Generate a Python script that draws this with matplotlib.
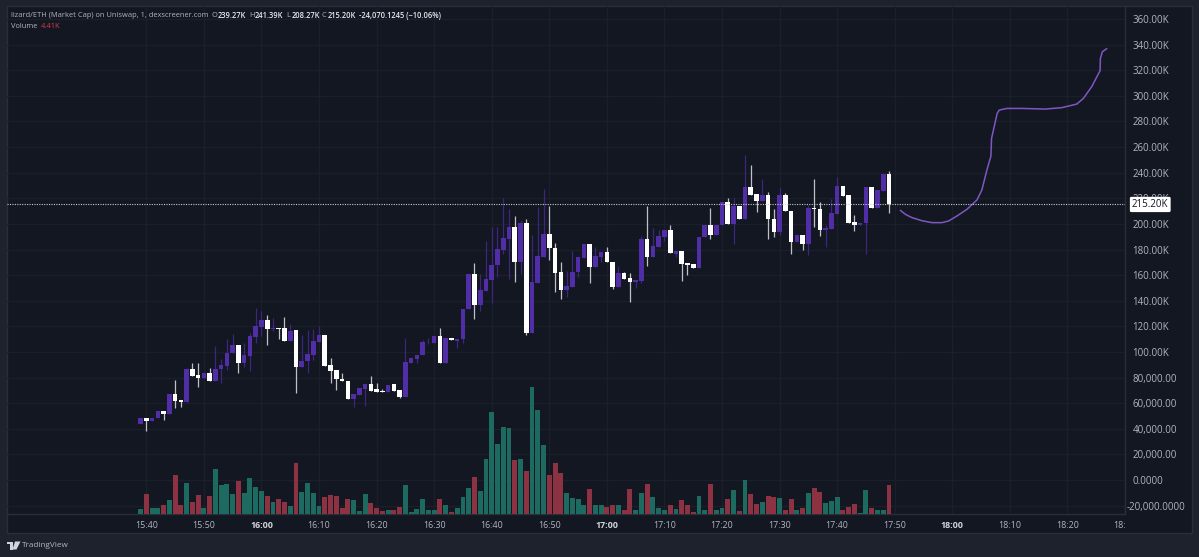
import numpy as np
import matplotlib
matplotlib.use('Agg')
import matplotlib.pyplot as plt
from matplotlib.patches import Rectangle, Polygon
from matplotlib.transforms import Bbox, ScaledTranslation, blended_transform_factory

# 1 minute candles, market cap in thousands, first one at 15:39
opens = [43.7, 48.2, 46.3, 48.2, 53.9, 51.8, 67.2, 62.5, 60.6, 86.9,
         81.7, 79.6, 83.6, 77.1, 86.7, 89.0, 98.9, 105.4, 91.4, 97.1,
         111.9, 119.5, 125.2, 117.9, 118.7, 118.4, 108.8, 116.9, 88.0, 92.7,
         97.6, 108.0, 113.2, 89.5, 85.9, 79.1, 77.6, 63.3, 66.4, 71.0,
         75.0, 70.8, 69.5, 68.7, 74.7, 70.3, 65.1, 91.4, 94.8, 97.4,
         107.5, 107.0, 112.5, 91.1, 110.9, 108.8, 110.1, 133.3, 160.9, 136.7,
         147.9, 156.2, 167.6, 179.6, 188.2, 197.3, 170.0, 200.4, 114.8, 154.1,
         174.4, 192.4, 181.4, 162.2, 148.4, 151.0, 162.2, 173.6, 184.0, 166.6,
         174.4, 178.0, 170.5, 151.0, 161.4, 157.5, 154.6, 155.4, 188.0, 174.4,
         182.2, 190.0, 195.2, 176.7, 179.1, 169.2, 168.4, 165.6, 189.5, 199.4,
         191.3, 198.9, 217.4, 199.9, 214.0, 203.8, 229.1, 223.1, 218.1, 222.3,
         203.8, 193.9, 222.3, 210.3, 185.6, 191.3, 184.3, 212.7, 211.6, 195.0,
         196.3, 208.0, 229.6, 222.3, 201.5, 199.1, 200.4, 228.8, 212.4, 225.9,
         239.27]
highs = [48.2, 48.2, 48.7, 53.9, 53.9, 67.2, 78.1, 62.5, 87.5, 91.6,
         91.1, 83.6, 87.5, 104.6, 94.2, 110.4, 114.0, 105.4, 106.7, 114.6,
         134.1, 132.2, 128.9, 126.5, 118.7, 127.0, 121.8, 116.9, 113.2, 117.1,
         117.7, 120.3, 113.2, 95.0, 85.9, 83.8, 77.6, 67.2, 71.6, 75.0,
         81.5, 75.5, 70.8, 74.5, 74.7, 70.3, 110.6, 95.3, 97.9, 109.3,
         110.6, 112.5, 118.7, 110.9, 110.9, 110.4, 133.8, 160.9, 169.2, 160.9,
         186.9, 197.8, 197.3, 220.0, 211.4, 206.2, 202.5, 203.6, 191.3, 213.0,
         227.0, 214.0, 184.8, 170.0, 163.5, 178.6, 173.9, 184.0, 184.0, 182.2,
         178.0, 182.2, 170.5, 167.1, 162.7, 161.4, 156.2, 190.5, 214.0, 196.8,
         195.2, 195.2, 198.9, 178.6, 179.1, 169.2, 168.4, 189.8, 199.4, 212.1,
         199.4, 217.1, 220.0, 220.0, 214.0, 253.8, 245.7, 223.1, 234.8, 224.6,
         211.4, 229.1, 223.9, 210.3, 191.3, 191.3, 214.7, 235.1, 216.8, 198.9,
         219.7, 236.4, 229.6, 222.3, 206.7, 200.7, 228.8, 228.8, 226.2, 239.0,
         241.39]
lows = [43.7, 38.5, 46.3, 48.2, 46.9, 51.8, 56.2, 56.7, 60.6, 81.0,
        72.9, 79.6, 77.1, 77.1, 76.0, 85.9, 98.9, 83.8, 88.0, 85.1,
        107.3, 112.5, 105.7, 116.6, 110.4, 108.8, 108.8, 67.7, 88.0, 83.8,
        93.7, 108.0, 89.0, 76.0, 70.3, 77.1, 63.3, 57.3, 66.4, 57.8,
        69.8, 68.7, 68.5, 68.7, 69.5, 64.0, 65.1, 91.4, 91.6, 97.4,
        106.0, 107.0, 91.1, 91.1, 109.1, 102.8, 107.3, 133.3, 125.7, 132.2,
        147.9, 138.0, 158.8, 176.5, 156.7, 154.9, 160.9, 113.2, 114.8, 154.1,
        174.4, 171.8, 146.8, 141.3, 143.2, 151.0, 158.8, 173.6, 154.1, 166.6,
        170.2, 170.0, 149.4, 151.0, 157.0, 138.7, 150.2, 154.1, 167.4, 174.4,
        182.2, 186.9, 177.0, 174.4, 155.1, 160.1, 165.6, 165.6, 189.5, 188.5,
        191.3, 198.9, 199.9, 184.0, 203.8, 203.8, 222.6, 209.3, 218.1, 187.9,
        189.5, 191.3, 209.8, 176.5, 185.6, 179.6, 175.7, 197.8, 190.5, 182.2,
        196.3, 208.0, 221.8, 200.9, 194.7, 199.1, 176.5, 212.4, 212.4, 225.9,
        208.27]
closes = [48.2, 46.3, 48.7, 53.9, 51.5, 67.2, 62.0, 60.6, 86.9, 81.0,
          79.6, 83.6, 77.1, 86.9, 89.5, 99.4, 105.4, 91.6, 97.6, 112.5,
          120.0, 125.2, 117.9, 118.7, 117.9, 108.8, 116.6, 88.3, 92.9, 98.1,
          108.3, 113.2, 89.0, 85.4, 78.6, 77.1, 63.3, 67.2, 71.6, 75.0,
          69.8, 68.7, 68.5, 74.5, 69.5, 65.1, 91.9, 95.3, 97.9, 107.5,
          108.0, 112.5, 91.1, 110.9, 109.1, 110.4, 133.8, 160.9, 136.7, 148.4,
          156.7, 167.9, 180.1, 188.7, 197.3, 170.0, 200.4, 114.8, 154.6, 174.9,
          192.1, 180.9, 161.9, 148.4, 151.5, 162.4, 173.9, 184.0, 166.6, 174.9,
          178.0, 170.0, 151.0, 161.6, 157.0, 154.6, 156.2, 188.0, 174.4, 182.5,
          190.3, 195.2, 177.0, 178.6, 168.7, 168.2, 165.6, 189.8, 199.4, 191.3,
          199.4, 217.1, 199.9, 214.0, 203.8, 229.1, 222.6, 218.1, 222.3, 203.6,
          193.9, 222.3, 209.8, 185.6, 191.3, 184.3, 212.7, 211.4, 195.0, 196.8,
          208.2, 229.6, 221.8, 200.9, 199.4, 200.7, 228.8, 212.4, 226.2, 239.0,
          215.20]
volumes = [0.77, 3.08, 0.87, 0.97, 1.38, 2.21, 5.95, 1.44, 4.82, 1.85,
           2.92, 0.87, 2.77, 6.87, 4.41, 4.67, 3.03, 5.13, 3.23, 5.59,
           4.21, 3.54, 2.77, 1.85, 2.36, 1.90, 1.28, 7.85, 3.44, 4.82,
           3.23, 1.28, 2.56, 2.97, 2.77, 0.87, 2.36, 2.15, 0.51, 3.13,
           1.64, 0.97, 0.41, 0.56, 0.56, 1.13, 4.41, 0.36, 0.77, 2.31,
           0.67, 0.56, 2.36, 1.44, 0.36, 0.97, 2.67, 4.05, 5.74, 3.54,
           8.46, 15.74, 10.77, 13.44, 13.23, 8.36, 8.51, 6.56, 19.54, 15.95,
           10.56, 5.95, 7.90, 6.36, 3.23, 2.46, 2.31, 1.38, 3.90, 1.44,
           1.44, 1.08, 1.44, 1.38, 0.67, 3.85, 0.67, 3.23, 4.62, 2.56,
           0.87, 0.67, 1.38, 0.82, 2.15, 1.44, 0.31, 2.77, 0.67, 4.62,
           0.67, 0.97, 2.36, 3.64, 0.51, 5.28, 3.08, 1.54, 1.90, 2.82,
           2.67, 2.46, 0.67, 2.26, 0.62, 0.97, 3.23, 4.05, 3.44, 1.74,
           1.95, 2.67, 0.62, 1.08, 1.59, 0.21, 3.74, 0.97, 0.67, 0.67,
           4.41]

# hand drawn forecast line: minutes after 15:40, market cap in thousands
sketch_minutes = [130.98, 131.85, 133.0, 134.74, 136.47, 138.2, 139.36, 140.81, 142.54, 144.28,
                  145.14, 146.01, 146.71, 146.82, 147.34, 147.8, 148.15, 149.48, 152.08, 156.13,
                  159.02, 161.62, 162.78, 164.22, 165.67, 165.73, 166.07, 166.83]
sketch_values = [210.6, 207.5, 204.9, 202.5, 201.0, 201.0, 202.3, 206.2, 211.4, 218.7,
                 226.5, 242.1, 253.0, 266.8, 277.2, 286.4, 288.9, 290.2, 290.2, 289.7,
                 290.8, 293.6, 298.1, 307.2, 319.7, 329.3, 334.5, 336.9]

time_labels = ['15:40', '15:50', '16:00', '16:10', '16:20', '16:30', '16:40', '16:50', '17:00',
               '17:10', '17:20', '17:30', '17:40', '17:50', '18:00', '18:10', '18:20', '18:30']
bold_times = ['16:00', '17:00', '18:00']
price_ticks = [360, 340, 320, 300, 280, 260, 240, 220, 200, 180, 160, 140, 120, 100, 80, 60, 40, 20, 0, -20]
price_labels = ['360.00K', '340.00K', '320.00K', '300.00K', '280.00K', '260.00K', '240.00K', '220.00K',
                '200.00K', '180.00K', '160.00K', '140.00K', '120.00K', '100.00K', '80,000.00', '60,000.00',
                '40,000.00', '20,000.00', '0.0000', '-20,000.0000']

BG = '#1e222d'
PANE = '#131722'
GRID = '#1b1f2a'
LINE = '#2a2e39'
TEXT = '#b2b5be'
UP = '#512da8'
UP_WICK = '#3d2680'
DOWN = '#ffffff'
DOWN_WICK = '#bfc1c6'
VOL_UP = '#1d6a60'
VOL_DOWN = '#8c3243'
FONT = 'Open Sans'
HEAD_SIZE = 5.45
TIME_SIZE = 6.4
PRICE_SIZE = 7.0

W, H = 1199, 557
plt.rcParams['font.family'] = [FONT, 'DejaVu Sans']


def box(left, top, right, bottom):
    # pixel edges measured from the top left corner -> figure fractions
    return [left / W, 1 - bottom / H, (right - left) / W, (bottom - top) / H]


fig = plt.figure(figsize=(W / 100, H / 100), dpi=100, facecolor=BG)

# panel behind everything, includes the price scale and time scale
fig.patches.append(Rectangle((7 / W, 1 - 533 / H), 1185 / W, 527 / H, transform=fig.transFigure,
                             facecolor=PANE, edgecolor=LINE, linewidth=1, zorder=-5))

ax = fig.add_axes(box(7, 6, 1125, 514))
ax.patch.set_visible(False)
ax.set_xlim(-24.2, 169.7)
ax.set_ylim(-26.55, 370.2)

minutes = np.arange(len(opens)) - 1
opens_a = np.array(opens)
closes_a = np.array(closes)
is_up = closes_a >= opens_a

# candles
ax.vlines(minutes[is_up], np.array(lows)[is_up], np.array(highs)[is_up], color=UP_WICK, linewidth=0.9, zorder=2)
ax.vlines(minutes[~is_up], np.array(lows)[~is_up], np.array(highs)[~is_up], color=DOWN_WICK, linewidth=0.9, zorder=2)
body_bottom = np.minimum(opens_a, closes_a)
body_height = np.abs(closes_a - opens_a)
ax.bar(minutes, body_height, bottom=body_bottom, width=0.8,
       color=[UP if u else DOWN for u in is_up], linewidth=0, zorder=3)

# forecast sketch and last price
ax.plot(sketch_minutes, sketch_values, color='#7e57c2', linewidth=1.1, solid_capstyle='round', zorder=4)
last_close = closes[-1]
ax.axhline(last_close, color='#c8cad0', linewidth=0.8, linestyle=(0, (1, 1.2)), zorder=5)

ax.set_xticks([(int(t[:2]) - 15) * 60 + int(t[3:]) - 40 for t in time_labels])
ax.set_xticklabels(time_labels)
ax.set_yticks(price_ticks)
ax.set_yticklabels(price_labels)
ax.yaxis.tick_right()
ax.tick_params(axis='x', length=0, pad=4.8, labelsize=TIME_SIZE, labelcolor=TEXT)
ax.tick_params(axis='y', length=0, pad=5.5, labelsize=PRICE_SIZE, labelcolor=TEXT)
ax.grid(True, color=GRID, linewidth=1)
ax.set_axisbelow(True)
for side in ['top', 'left']:
    ax.spines[side].set_visible(False)
for side in ['bottom', 'right']:
    ax.spines[side].set_color(LINE)
    ax.spines[side].set_linewidth(1)

# the time scale stops at the price scale
scale_clip = Bbox([[7, 0], [1125, H]])
for label in ax.get_xticklabels():
    label.set_clip_box(scale_clip)
    label.set_clip_on(True)
    if label.get_text() in bold_times:
        label.set_fontweight('bold')
        label.set_color('#d1d4dc')

# longest price label needs a nudge to stay inside the scale
longest = ax.get_yticklabels()[-1]
longest.set_transform(longest.get_transform() + ScaledTranslation(-4 / 72, 0, fig.dpi_scale_trans))

trans = blended_transform_factory(ax.transAxes, ax.transData)
ax.text(1 + 7 / 1118, last_close, '215.20K', transform=trans, ha='left', va='center', fontsize=PRICE_SIZE,
        color=PANE, zorder=10, clip_on=False,
        bbox=dict(boxstyle='round,pad=0.22,rounding_size=0.15', facecolor='white', edgecolor='none'))

# volume sits in its own scale on the same pane
vol_ax = fig.add_axes(box(7, 6, 1125, 514), sharex=ax)
vol_ax.patch.set_visible(False)
vol_ax.set_ylim(0, 78.1)
vol_ax.bar(minutes, volumes, width=0.85, color=[VOL_UP if u else VOL_DOWN for u in is_up], linewidth=0)
vol_ax.axis('off')

# legend lines top left
fig.text(11 / W, 1 - 15.5 / H, 'lizard/ETH (Market Cap) on Uniswap, 1, dexscreener.com',
         fontsize=HEAD_SIZE, color=TEXT, va='center')
ohlc_x = [212, 249, 286, 322]
ohlc_letters = ['O', 'H', 'L', 'C']
ohlc_values = [opens[-1], highs[-1], lows[-1], closes[-1]]
for x, letter, value in zip(ohlc_x, ohlc_letters, ohlc_values):
    fig.text(x / W, 1 - 15.5 / H, letter, fontsize=HEAD_SIZE, color=TEXT, va='center')
    fig.text((x + 5.5) / W, 1 - 15.5 / H, f'{value:.2f}K', fontsize=HEAD_SIZE, color='#e8e9ec',
             va='center', fontweight='semibold')
fig.text(359 / W, 1 - 15.5 / H, '-24,070.1245 (\u221210.06%)', fontsize=HEAD_SIZE, color='#e8e9ec',
         va='center', fontweight='semibold')
fig.text(11 / W, 1 - 26.5 / H, 'Volume', fontsize=HEAD_SIZE, color=TEXT, va='center')
fig.text(41 / W, 1 - 26.5 / H, f'{volumes[-1]:.2f}K', fontsize=HEAD_SIZE, color='#d8394a', va='center')


def to_fig(points):
    return [(px / W, 1 - py / H) for px, py in points]


# footer logo
logo = '#d1d4dc'
fig.patches.append(Polygon(to_fig([(6.5, 541.5), (13, 541.5), (13, 549.5), (10, 549.5), (10, 544), (6.5, 544)]),
                           transform=fig.transFigure, facecolor=logo, edgecolor='none'))
fig.patches.append(Polygon(to_fig([(15, 541.5), (20.5, 541.5), (16.5, 549.5), (12.5, 549.5)]),
                           transform=fig.transFigure, facecolor=logo, edgecolor='none'))
fig.text(22 / W, 1 - 545.8 / H, 'TradingView', fontsize=5.9, color=TEXT, va='center')

fig.savefig('out.png', dpi=100, facecolor=BG)
plt.close(fig)
